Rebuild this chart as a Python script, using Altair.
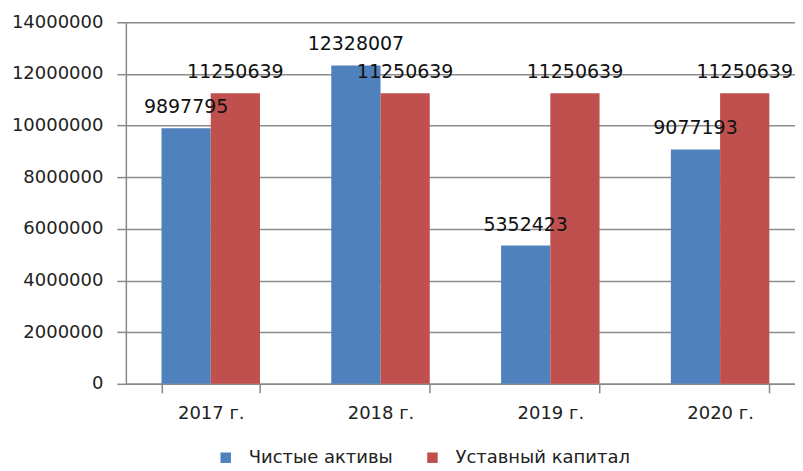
import altair as alt
import pandas as pd

years = ["2017 г.", "2018 г.", "2019 г.", "2020 г."]
net_assets = [9897795, 12328007, 5352423, 9077193]
capital = [11250639, 11250639, 11250639, 11250639]
series = ["Чистые активы", "Уставный капитал"]
colors = ["#4F81BD", "#C0504D"]
y_ticks = [0, 2000000, 4000000, 6000000, 8000000, 10000000, 12000000, 14000000]

rows = []
for i, yr in enumerate(years):
    rows.append({"year": yr, "series": series[0], "value": net_assets[i], "order": 0})
    rows.append({"year": yr, "series": series[1], "value": capital[i], "order": 1})
df = pd.DataFrame(rows)

x = alt.X("year:N", sort=years, title=None,
          scale=alt.Scale(paddingInner=0.42, paddingOuter=0.21, range=[0, 680]),
          axis=alt.Axis(labelAngle=0, labelFont="DejaVu Sans", labelFontSize=18,
                        labelColor="#222222", labelPadding=12,
                        tickBand="extent", tickSize=9, tickColor="#888888",
                        tickWidth=1.5, domainColor="#888888", domainWidth=1.5,
                        grid=False))
y = alt.Y("value:Q", title=None,
          scale=alt.Scale(domain=[0, 14000000], nice=False),
          axis=alt.Axis(values=y_ticks, format="d", labelFont="DejaVu Sans",
                        labelFontSize=18, labelColor="#222222", labelPadding=14,
                        tickSize=9, tickColor="#888888", tickWidth=1.5,
                        domainColor="#888888", domainWidth=1.5,
                        gridColor="#8c8c8c", gridWidth=1.5))
xo = alt.XOffset("series:N", sort=series)

bars = alt.Chart(df).mark_bar().encode(
    x=x, y=y, xOffset=xo,
    color=alt.Color("series:N", sort=series,
                    scale=alt.Scale(domain=series, range=colors),
                    legend=alt.Legend(title=None, orient="none", legendX=91, legendY=427,
                                      direction="horizontal", symbolType="square",
                                      symbolSize=110, symbolStrokeWidth=0,
                                      labelFont="DejaVu Sans", labelFontSize=18,
                                      labelColor="#222222", columnPadding=30,
                                      labelOffset=14, labelLimit=0, padding=0)),
)

labels = alt.Chart(df).mark_text(font="DejaVu Sans", fontSize=19, color="#111111",
                                 baseline="alphabetic", dy=-15).encode(
    x=x, y=y, xOffset=xo, text=alt.Text("value:Q", format="d"))

chart = alt.layer(bars, labels).properties(
    width=670, height=362,
    autosize=alt.AutoSizeParams(type="none"),
    padding={"left": 118, "top": 14, "right": 0, "bottom": 87},
).configure_view(stroke=None).configure_axis(domainCap="butt")

chart.save("out.html", embed_options={"renderer": "svg", "actions": False})
